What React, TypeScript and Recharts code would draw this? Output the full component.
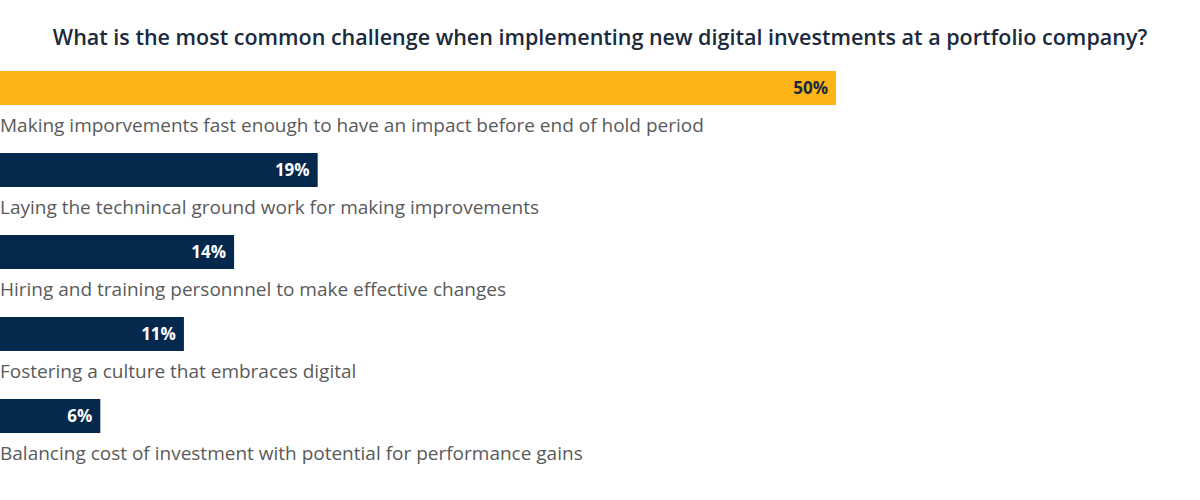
import React from 'react';
import { BarChart, Bar, XAxis, YAxis, LabelList, Cell } from 'recharts';

const categories = [
  'Making imporvements fast enough to have an impact before end of hold period',
  'Laying the technincal ground work for making improvements',
  'Hiring and training personnnel to make effective changes',
  'Fostering a culture that embraces digital',
  'Balancing cost of investment with potential for performance gains',
];
const shares = [50, 19, 14, 11, 6];
const barColors = ['#FDB515', '#04294D', '#04294D', '#04294D', '#04294D'];
const valueColors = ['#1B2A3D', '#FFFFFF', '#FFFFFF', '#FFFFFF', '#FFFFFF'];

const data = categories.map((name, i) => ({ name, value: shares[i] }));

const FONT = '"Open Sans", "Noto Sans", sans-serif';

const NameLabel = (props: any) => {
  const { x, y, height, index } = props;
  return (
    <text x={x} y={y + height + 27} fill="#5A5A5A" fontSize={19} fontFamily={FONT}>
      {categories[index]}
    </text>
  );
};

const ValueLabel = (props: any) => {
  const { x, y, width, height, index } = props;
  return (
    <text
      x={x + width - 8}
      y={y + height / 2 + 6}
      textAnchor="end"
      fill={valueColors[index]}
      fontSize={17}
      fontWeight={700}
      fontFamily={FONT}
    >
      {shares[index]}%
    </text>
  );
};

export default function App() {
  return (
    <div style={{ position: 'fixed', left: 0, top: 0, width: 1200, height: 500, background: '#fff' }}>
      <div
        style={{
          position: 'absolute',
          top: 22,
          left: 0,
          width: 1200,
          textAlign: 'center',
          fontFamily: FONT,
          fontSize: 21.5,
          fontWeight: 600,
          color: '#1B2A3D',
        }}
      >
        What is the most common challenge when implementing new digital investments at a portfolio company?
      </div>
      <BarChart
        width={1200}
        height={500}
        data={data}
        layout="vertical"
        margin={{ top: 47, right: 364, left: 0, bottom: 43 }}
        barCategoryGap={0}
      >
        <XAxis type="number" domain={[0, 50]} hide />
        <YAxis type="category" dataKey="name" hide width={0} />
        <Bar dataKey="value" barSize={34} isAnimationActive={false}>
          {data.map((d, i) => (
            <Cell key={`cell-${i}`} fill={barColors[i]} />
          ))}
          <LabelList dataKey="value" content={<ValueLabel />} />
          <LabelList dataKey="name" content={<NameLabel />} />
        </Bar>
      </BarChart>
    </div>
  );
}
